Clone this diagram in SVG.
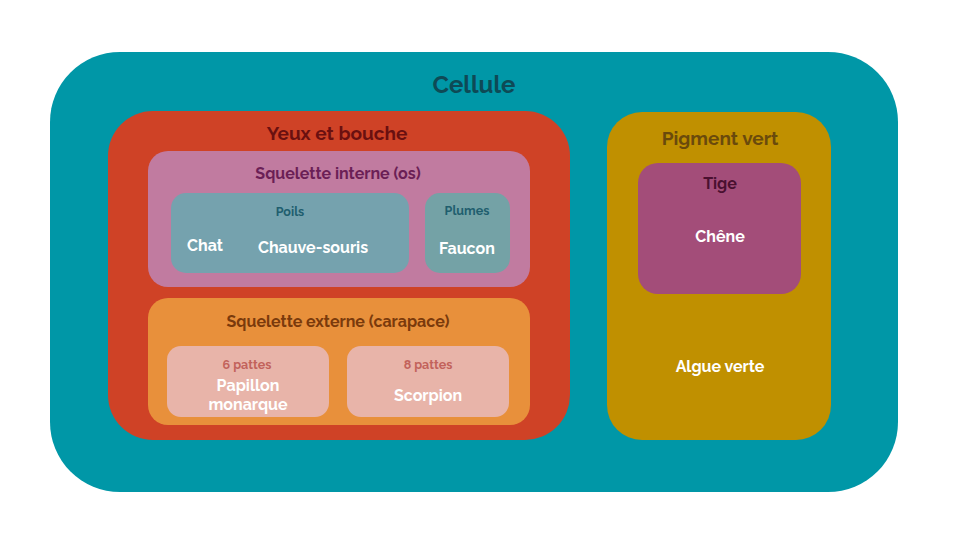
<svg xmlns="http://www.w3.org/2000/svg" width="960" height="540" viewBox="0 0 960 540">
<style>
text{font-family:"Raleway","Lato","Noto Sans","Liberation Sans",sans-serif;font-weight:bold;text-anchor:middle}
.w{fill:#ffffff;font-size:16px}
</style>
<rect width="960" height="540" fill="#ffffff"/>
<g id="cellule">
<rect x="50" y="52" width="848" height="440" rx="70" fill="#0097A7"/>
<text x="474" y="93" font-size="24" fill="#0E4A56">Cellule</text>
</g>
<g id="yeux">
<rect x="108" y="111" width="462" height="329" rx="45" fill="#CF4226"/>
<text x="337" y="140" font-size="19" fill="#6A1010">Yeux et bouche</text>
</g>
<g id="sq-interne">
<rect x="148" y="151" width="382" height="136" rx="20" fill="#C17BA0"/>
<text x="338" y="179" font-size="16" fill="#6B1F56">Squelette interne (os)</text>
</g>
<g id="poils">
<rect x="171" y="193" width="238" height="80" rx="15" fill="#75A2AE"/>
<text x="290" y="216" font-size="12.5" fill="#1F5E6E">Poils</text>
<text class="w" x="205" y="251">Chat</text>
<text class="w" x="313" y="253">Chauve-souris</text>
</g>
<g id="plumes">
<rect x="425" y="193" width="85" height="80" rx="15" fill="#74A2A6"/>
<text x="467" y="215" font-size="12.5" fill="#1F5E6E">Plumes</text>
<text class="w" x="467" y="254">Faucon</text>
</g>
<g id="sq-externe">
<rect x="148" y="298" width="382" height="127" rx="20" fill="#E8903B"/>
<text x="338" y="327" font-size="16" fill="#7A3A0C">Squelette externe (carapace)</text>
</g>
<g id="six-pattes">
<rect x="167" y="346" width="162" height="71" rx="14" fill="#E8B4A9"/>
<text x="247" y="369" font-size="12.5" fill="#C2625B">6 pattes</text>
<text class="w" x="248" y="391">Papillon</text>
<text class="w" x="248" y="410">monarque</text>
</g>
<g id="huit-pattes">
<rect x="347" y="346" width="162" height="71" rx="14" fill="#E8B4A9"/>
<text x="428" y="369" font-size="12.5" fill="#C2625B">8 pattes</text>
<text class="w" x="428" y="401">Scorpion</text>
</g>
<g id="pigment">
<rect x="607" y="112" width="224" height="328" rx="35" fill="#C09000"/>
<text x="720" y="145" font-size="19" fill="#6A4A0C">Pigment vert</text>
<text class="w" x="720" y="372">Algue verte</text>
</g>
<g id="tige">
<rect x="638" y="163" width="163" height="131" rx="20" fill="#A34D79"/>
<text x="720" y="189" font-size="16" fill="#4A1030">Tige</text>
<text class="w" x="720" y="242">Chêne</text>
</g>
<g id="connectors"></g>
</svg>
